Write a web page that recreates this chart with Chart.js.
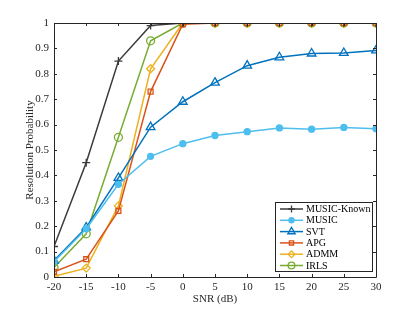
<!DOCTYPE html>
<html>
<head>
<meta charset="utf-8">
<script src="https://cdn.jsdelivr.net/npm/chart.js@4.4.1/dist/chart.umd.min.js"></script>
<style>
html,body{margin:0;padding:0;background:#fff}
#wrap{width:415px;height:312px}
</style>
</head>
<body>
<div id="wrap"><canvas id="myChart"></canvas></div>
<script>
var snr = [-20, -15, -10, -5, 0, 5, 10, 15, 20, 25, 30]
var musicKnown = [0.12, 0.45, 0.85, 0.99, 1, 1, 1, 1, 1, 1, 1]
var music = [0.06, 0.19, 0.365, 0.475, 0.525, 0.557, 0.572, 0.587, 0.582, 0.589, 0.584]
var svt = [0.065, 0.195, 0.39, 0.59, 0.69, 0.765, 0.832, 0.865, 0.88, 0.882, 0.892]
var apg = [0.02, 0.07, 0.26, 0.73, 0.995, 1, 1, 1, 1, 1, 1]
var admm = [0.003, 0.035, 0.28, 0.82, 1, 1, 1, 1, 1, 1, 1]
var irls = [0.037, 0.17, 0.55, 0.93, 1, 1, 1, 1, 1, 1, 1]

var xTicks = [-20, -15, -10, -5, 0, 5, 10, 15, 20, 25, 30]
var yTicks = [0, 0.1, 0.2, 0.3, 0.4, 0.5, 0.6, 0.7, 0.8, 0.9, 1]
var yTickLabels = ['0', '0.1', '0.2', '0.3', '0.4', '0.5', '0.6', '0.7', '0.8', '0.9', '1']

function pts(vals){
    return vals.map(function(v, i){ return {x: snr[i], y: v} })
}

function series(label, vals, color, style, radius, filled){
    return {
        label: label,
        data: pts(vals),
        borderColor: color,
        backgroundColor: color,
        borderWidth: 1.5,
        pointStyle: style,
        pointRadius: radius,
        pointBorderWidth: 1.3,
        pointBorderColor: color,
        pointBackgroundColor: filled ? color : 'rgba(0,0,0,0)',
        tension: 0
    }
}

Chart.defaults.font.family = "'Liberation Serif', 'Times New Roman', serif"
Chart.defaults.font.size = 11
Chart.defaults.color = '#262626'

// box around the plot with inward ticks on all four sides
var axisBox = {
    id: 'axisBox',
    afterDraw: function(chart){
        var ctx = chart.ctx, a = chart.chartArea
        var xs = chart.scales.x, ys = chart.scales.y
        ctx.save()
        ctx.strokeStyle = '#262626'
        ctx.lineWidth = 1
        ctx.beginPath()
        ctx.rect(Math.round(a.left) + 0.5, Math.round(a.top) + 0.5, Math.round(a.right - a.left), Math.round(a.bottom - a.top))
        xTicks.forEach(function(t){
            var px = Math.round(xs.getPixelForValue(t)) + 0.5
            ctx.moveTo(px, a.bottom); ctx.lineTo(px, a.bottom - 3)
            ctx.moveTo(px, a.top); ctx.lineTo(px, a.top + 3)
        })
        yTicks.forEach(function(t){
            var py = Math.round(ys.getPixelForValue(t)) + 0.5
            ctx.moveTo(a.left, py); ctx.lineTo(a.left + 3, py)
            ctx.moveTo(a.right, py); ctx.lineTo(a.right - 3, py)
        })
        ctx.stroke()
        ctx.restore()
    }
}

// legend in the lower right corner, inside the axes
var legendBox = {
    id: 'legendBox',
    afterDraw: function(chart){
        var ctx = chart.ctx, a = chart.chartArea
        var w = 97, h = 69, rowH = 11.3
        var x0 = Math.round(a.right - 4 - w), y0 = Math.round(a.bottom - 6 - h)
        ctx.save()
        ctx.fillStyle = '#fff'
        ctx.fillRect(x0, y0, w, h)
        ctx.strokeStyle = '#262626'
        ctx.lineWidth = 1
        ctx.strokeRect(x0 + 0.5, y0 + 0.5, w, h)
        chart.data.datasets.forEach(function(ds, i){
            var y = y0 + 7 + i * rowH
            ctx.strokeStyle = ds.borderColor
            ctx.lineWidth = ds.borderWidth
            ctx.beginPath()
            ctx.moveTo(x0 + 5, y); ctx.lineTo(x0 + 28, y)
            ctx.stroke()
            ctx.fillStyle = ds.pointBackgroundColor
            ctx.lineWidth = ds.pointBorderWidth
            Chart.helpers.drawPoint(ctx, {pointStyle: ds.pointStyle, radius: ds.pointRadius * 0.85, borderWidth: ds.pointBorderWidth, rotation: 0}, x0 + 16.5, y)
            ctx.fillStyle = '#000'
            ctx.font = "10px 'Liberation Serif', serif"
            ctx.textBaseline = 'middle'
            ctx.textAlign = 'left'
            ctx.fillText(ds.label, x0 + 31, y + 0.5)
        })
        ctx.restore()
    }
}

var myChart = document.getElementById('myChart').getContext('2d')
var chart = new Chart(myChart, {
    type: 'line',
    data: {
        datasets: [
            series('MUSIC-Known', musicKnown, '#3a3a3a', 'cross', 4, false),
            series('MUSIC', music, '#4DBEEE', 'circle', 3, true),
            series('SVT', svt, '#0072BD', 'triangle', 5, false),
            series('APG', apg, '#D95319', 'rect', 3.5, false),
            series('ADMM', admm, '#EDB120', 'rectRot', 4, false),
            series('IRLS', irls, '#77AC30', 'circle', 4, false)
        ]
    },
    options: {
        responsive: true,
        maintainAspectRatio: false,
        animation: false,
        layout: {padding: {left: 24, top: 23, right: 39, bottom: 0}},
        plugins: {legend: {display: false}, tooltip: {enabled: false}},
        scales: {
            x: {
                type: 'linear',
                min: -20,
                max: 30,
                afterBuildTicks: function(s){ s.ticks = xTicks.map(function(v){ return {value: v} }) },
                afterFit: function(s){ s.height = 35 },
                ticks: {padding: 4, maxRotation: 0, autoSkip: false, callback: function(v){ return String(v) }},
                grid: {display: false, drawTicks: false, tickLength: 0},
                border: {display: false},
                title: {display: true, text: 'SNR (dB)', padding: {top: 0, bottom: 6}}
            },
            y: {
                type: 'linear',
                min: 0,
                max: 1,
                afterBuildTicks: function(s){ s.ticks = yTicks.map(function(v){ return {value: v} }) },
                afterFit: function(s){ s.width = 30 },
                ticks: {padding: 5, autoSkip: false, callback: function(v, i){ return yTickLabels[i] }},
                grid: {display: false, drawTicks: false, tickLength: 0},
                border: {display: false},
                title: {display: true, text: 'Resolution Probability', padding: {top: 0, bottom: 0}}
            }
        }
    },
    plugins: [axisBox, legendBox]
})
</script>
</body>
</html>
